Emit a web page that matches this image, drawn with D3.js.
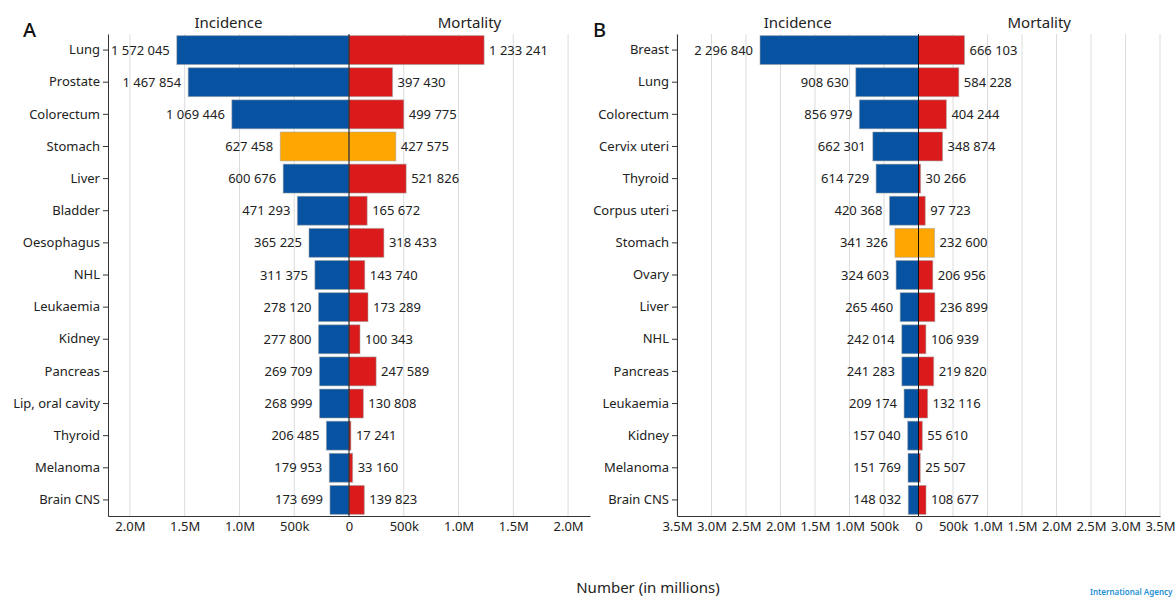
<!DOCTYPE html>
<html>
<head>
<meta charset="utf-8">
<script src="https://cdn.jsdelivr.net/npm/d3@7"></script>
<style>
  html, body { margin: 0; padding: 0; background: #fff; }
  svg { display: block; font-family: "Noto Sans", "Open Sans", sans-serif; }
</style>
</head>
<body>
<svg id="chart" width="1176" height="597"></svg>
<script>
// Panel A: both sexes
const catsA = ["Lung", "Prostate", "Colorectum", "Stomach", "Liver", "Bladder", "Oesophagus", "NHL",
  "Leukaemia", "Kidney", "Pancreas", "Lip, oral cavity", "Thyroid", "Melanoma", "Brain CNS"];
const incA = [1572045, 1467854, 1069446, 627458, 600676, 471293, 365225, 311375,
  278120, 277800, 269709, 268999, 206485, 179953, 173699];
const mortA = [1233241, 397430, 499775, 427575, 521826, 165672, 318433, 143740,
  173289, 100343, 247589, 130808, 17241, 33160, 139823];

// Panel B: females
const catsB = ["Breast", "Lung", "Colorectum", "Cervix uteri", "Thyroid", "Corpus uteri", "Stomach", "Ovary",
  "Liver", "NHL", "Pancreas", "Leukaemia", "Kidney", "Melanoma", "Brain CNS"];
const incB = [2296840, 908630, 856979, 662301, 614729, 420368, 341326, 324603,
  265460, 242014, 241283, 209174, 157040, 151769, 148032];
const mortB = [666103, 584228, 404244, 348874, 30266, 97723, 232600, 206956,
  236899, 106939, 219820, 132116, 55610, 25507, 108677];

const highlight = "Stomach";
const ticksA = [-2e6, -1.5e6, -1e6, -5e5, 0, 5e5, 1e6, 1.5e6, 2e6];
const ticksB = [-3.5e6, -3e6, -2.5e6, -2e6, -1.5e6, -1e6, -5e5, 0, 5e5, 1e6, 1.5e6, 2e6, 2.5e6, 3e6, 3.5e6];

const svg = d3.select("#chart");
const blue = "#0753a1", red = "#db1a1b", orange = "#ffa700";

const numFmt = v => d3.format(",")(v).replace(/,/g, " ");
const tickFmt = v => {
  const a = Math.abs(v);
  if (a === 0) return "0";
  if (a < 1e6) return (a / 1e3) + "k";
  return (a / 1e6).toFixed(1) + "M";
};

function panel(opts) {
  const { cats, inc, mort, x0, x1, maxV, ticks, letter, letterX } = opts;
  const top = 34, bottom = 516;
  const x = d3.scaleLinear().domain([-maxV, maxV]).range([x0, x1]);
  const y = d3.scaleBand().domain(cats).range([top, bottom]).paddingInner(0.1).paddingOuter(0.05);
  const g = svg.append("g");

  // vertical grid
  g.selectAll("line.grid").data(ticks.filter(t => t !== 0)).join("line")
    .attr("x1", d => x(d)).attr("x2", d => x(d))
    .attr("y1", top).attr("y2", bottom)
    .attr("stroke", "#dcdcdc").attr("stroke-width", 1);

  // incidence bars (left)
  g.selectAll("rect.inc").data(cats).join("rect")
    .attr("x", (d, i) => x(-inc[i]))
    .attr("y", d => y(d))
    .attr("width", (d, i) => x(0) - x(-inc[i]))
    .attr("height", y.bandwidth())
    .attr("fill", d => d === highlight ? orange : blue)
    .attr("stroke", "rgba(160,160,160,0.55)").attr("stroke-width", 1);

  // mortality bars (right)
  g.selectAll("rect.mort").data(cats).join("rect")
    .attr("x", x(0))
    .attr("y", d => y(d))
    .attr("width", (d, i) => x(mort[i]) - x(0))
    .attr("height", y.bandwidth())
    .attr("fill", d => d === highlight ? orange : red)
    .attr("stroke", "rgba(160,160,160,0.55)").attr("stroke-width", 1);

  // value labels
  g.selectAll("text.inc").data(cats).join("text")
    .attr("x", (d, i) => x(-inc[i]) - 7)
    .attr("y", d => y(d) + y.bandwidth() / 2)
    .attr("dy", "0.35em").attr("text-anchor", "end")
    .attr("font-size", 13).attr("fill", "#222")
    .text((d, i) => numFmt(inc[i]));
  g.selectAll("text.mort").data(cats).join("text")
    .attr("x", (d, i) => x(mort[i]) + 5)
    .attr("y", d => y(d) + y.bandwidth() / 2)
    .attr("dy", "0.35em").attr("text-anchor", "start")
    .attr("font-size", 13).attr("fill", "#222")
    .text((d, i) => numFmt(mort[i]));

  // zero line
  g.append("line").attr("x1", x(0)).attr("x2", x(0)).attr("y1", top).attr("y2", bottom)
    .attr("stroke", "#111").attr("stroke-width", 1);

  // y axis
  const ya = g.append("g").attr("transform", `translate(${x0},0)`)
    .call(d3.axisLeft(y).tickSize(5).tickPadding(3).tickSizeOuter(0));
  ya.select(".domain").attr("stroke", "#333");
  ya.selectAll(".tick line").attr("stroke", "#333");
  ya.selectAll("text").attr("font-size", 13).attr("fill", "#222")
    .attr("font-family", "Noto Sans, Open Sans, sans-serif");

  // x axis
  const xa = g.append("g").attr("transform", `translate(0,${bottom})`)
    .call(d3.axisBottom(x).tickValues(ticks).tickFormat(tickFmt).tickSize(0).tickPadding(6).tickSizeOuter(0));
  xa.select(".domain").attr("stroke", "#333");
  xa.selectAll("text").attr("font-size", 13).attr("fill", "#222")
    .attr("font-family", "Noto Sans, Open Sans, sans-serif");

  // headers
  g.append("text").attr("x", (x0 + x(0)) / 2).attr("y", 28).attr("text-anchor", "middle")
    .attr("font-size", 15).attr("fill", "#222").text("Incidence");
  g.append("text").attr("x", (x(0) + x1) / 2).attr("y", 28).attr("text-anchor", "middle")
    .attr("font-size", 15).attr("fill", "#222").text("Mortality");

  // panel letter
  g.append("text").attr("x", letterX).attr("y", 37).attr("font-size", 20).attr("font-weight", 500)
    .attr("fill", "#111").text(letter);
}

panel({ cats: catsA, inc: incA, mort: mortA, x0: 108, x1: 590, maxV: 2.2e6, ticks: ticksA, letter: "A", letterX: 23 });
panel({ cats: catsB, inc: incB, mort: mortB, x0: 677, x1: 1160, maxV: 3.5e6, ticks: ticksB, letter: "B", letterX: 593 });

svg.append("text").attr("x", 648).attr("y", 593).attr("text-anchor", "middle")
  .attr("font-size", 15).attr("fill", "#222").text("Number (in millions)");

svg.append("text").attr("x", 1090).attr("y", 595).attr("font-size", 8).attr("font-weight", 600)
  .attr("fill", "#1d8fd6").text("International Agency");
</script>
</body>
</html>
